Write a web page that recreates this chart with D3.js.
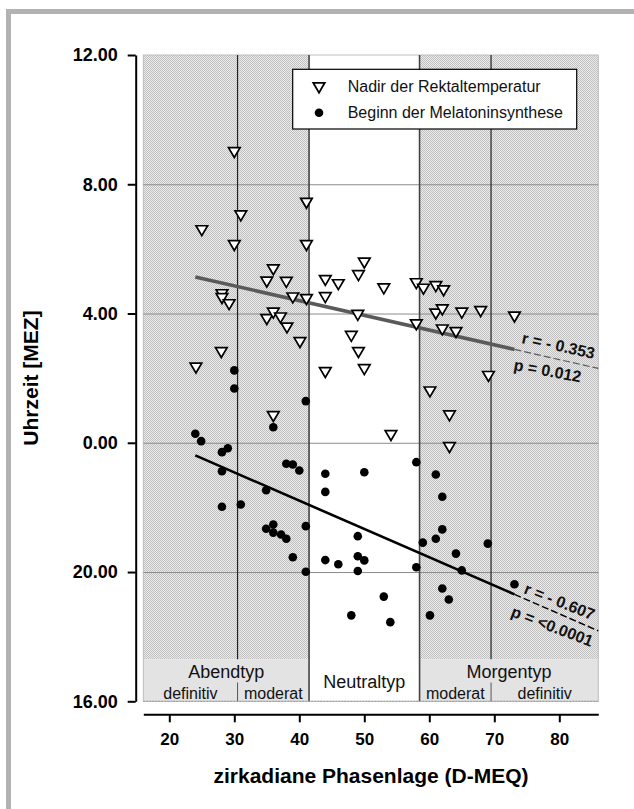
<!DOCTYPE html>
<html><head><meta charset="utf-8">
<script src="https://cdn.jsdelivr.net/npm/d3@7"></script>
<style>
html,body{margin:0;padding:0;background:#fff;}
svg{display:block;font-family:"Liberation Sans",Arial,sans-serif;}
</style></head>
<body>
<svg id="chart" width="634" height="809"></svg>
<script>
// ---- data ----
const xTicks = [20, 30, 40, 50, 60, 70, 80];
const yTickValues = [12, 8, 4, 0, -4, -8];
const yTickLabels = ["12.00", "8.00", "4.00", "0.00", "20.00", "16.00"];
const gridValues = [8, 4, 0, -4];

// Nadir der Rektaltemperatur (triangles)
const tempX = [24.1, 25.0, 28.0, 28.1, 28.1, 29.2, 30.0, 30.0, 31.0, 35.0, 35.0, 36.0, 36.0, 36.0, 37.1, 38.0, 38.1, 39.0, 40.1, 41.1, 41.1, 41.1, 44.0, 44.0, 44.0, 46.0, 48.0, 49.1, 49.0, 49.1, 50.0, 50.0, 53.0, 54.1, 58.0, 58.0, 59.1, 60.1, 61.0, 61.0, 62.2, 62.0, 62.0, 63.1, 63.1, 64.1, 65.0, 67.9, 69.1, 73.1];
const tempY = [2.32, 6.57, 2.80, 4.59, 4.47, 4.28, 8.99, 6.11, 7.03, 4.98, 3.82, 5.36, 4.02, 0.82, 3.87, 4.97, 3.56, 4.49, 3.11, 7.42, 6.11, 4.44, 5.03, 4.50, 2.18, 4.90, 3.30, 5.18, 3.95, 2.80, 5.57, 2.27, 4.77, 0.23, 4.93, 3.66, 4.76, 1.58, 4.84, 3.99, 4.71, 4.12, 3.50, 0.84, -0.14, 3.42, 4.02, 4.07, 2.06, 3.90];

// Beginn der Melatoninsynthese (dots)
const melX = [24.0, 24.9, 28.1, 29.0, 28.1, 28.1, 30.0, 30.0, 31.0, 34.9, 34.9, 36.0, 36.0, 36.0, 37.2, 38.0, 38.0, 39.0, 39.0, 40.0, 41.0, 41.0, 41.0, 44.0, 44.0, 44.0, 46.0, 48.0, 49.0, 49.0, 49.0, 50.0, 50.0, 53.0, 54.0, 58.0, 58.0, 59.0, 60.1, 61.0, 61.0, 62.0, 62.0, 62.0, 63.0, 64.1, 65.0, 69.0, 73.1];
const melY = [0.28, 0.05, -0.29, -0.17, -0.88, -1.98, 2.24, 1.68, -1.91, -1.47, -2.66, 0.48, -2.53, -2.78, -2.84, -2.97, -0.65, -0.67, -3.54, -0.86, 1.29, -2.58, -3.99, -0.96, -1.52, -3.63, -3.76, -5.34, -2.89, -3.51, -3.97, -0.91, -3.64, -4.76, -5.55, -0.60, -3.85, -3.09, -5.34, -0.98, -2.97, -1.67, -2.68, -4.51, -4.85, -3.43, -3.95, -3.12, -4.38];

// regression lines: solid part then dashed extension
const trendTempX = [24, 73.1, 86];
const trendTempY = [5.13, 2.89, 2.30];
const trendMelX = [24, 73.1, 86];
const trendMelY = [-0.39, -4.69, -5.82];

const typeBounds = [30.5, 41.5, 58.5, 69.5];
const groupLabels = ["Abendtyp", "Neutraltyp", "Morgentyp"];
const subLabels = ["definitiv", "moderat", "moderat", "definitiv"];
const legendLabels = ["Nadir der Rektaltemperatur", "Beginn der Melatoninsynthese"];

// ---- drawing ----
const svg = d3.select("#chart");
const x = d3.scaleLinear().domain([16, 86]).range([143.3, 598.3]);
const y = d3.scaleLinear().domain([-8, 12]).range([701.3, 55]);
const bandTop = 659.3;

const defs = svg.append("defs");
const pat = defs.append("pattern").attr("id", "hatch").attr("patternUnits", "userSpaceOnUse")
  .attr("width", 2).attr("height", 2);
pat.append("rect").attr("width", 2).attr("height", 2).attr("fill", "#ebebeb");
pat.append("rect").attr("x", 0).attr("y", 0).attr("width", 1).attr("height", 1).attr("fill", "#c0c0c0");
pat.append("rect").attr("x", 1).attr("y", 1).attr("width", 1).attr("height", 1).attr("fill", "#c0c0c0");

// outer frame (top and left visible)
svg.append("rect").attr("x", 8.5).attr("y", 11.5).attr("width", 700).attr("height", 900)
  .attr("fill", "none").attr("stroke", "#b2b2b2").attr("stroke-width", 5);

const x0 = x.range()[0], x1 = x.range()[1];
const yTop = y(12), yBot = y(-8);

// hatched regions
svg.append("rect").attr("x", x0).attr("y", yTop).attr("width", x(typeBounds[1]) - x0)
  .attr("height", bandTop - yTop).attr("fill", "url(#hatch)");
svg.append("rect").attr("x", x(typeBounds[2])).attr("y", yTop).attr("width", x1 - x(typeBounds[2]))
  .attr("height", bandTop - yTop).attr("fill", "url(#hatch)");
// neutral region white
svg.append("rect").attr("x", x(typeBounds[1])).attr("y", yTop).attr("width", x(typeBounds[2]) - x(typeBounds[1]))
  .attr("height", yBot - yTop).attr("fill", "#fff");
// label band
svg.append("rect").attr("x", x0).attr("y", bandTop).attr("width", x(typeBounds[1]) - x0)
  .attr("height", yBot - bandTop).attr("fill", "#e3e3e3");
svg.append("rect").attr("x", x(typeBounds[2])).attr("y", bandTop).attr("width", x1 - x(typeBounds[2]))
  .attr("height", yBot - bandTop).attr("fill", "#e3e3e3");

// plot border
svg.append("rect").attr("x", x0).attr("y", yTop).attr("width", x1 - x0).attr("height", yBot - yTop)
  .attr("fill", "none").attr("stroke", "#bdbdbd").attr("stroke-width", 1);

// horizontal grid
svg.append("g").selectAll("line").data(gridValues).join("line")
  .attr("x1", x0).attr("x2", x1).attr("y1", d => y(d) + 0.5).attr("y2", d => y(d) + 0.5)
  .attr("stroke", "#8c8c8c").attr("stroke-width", 1);

// vertical boundaries
[typeBounds[0], typeBounds[3]].forEach(b => {
  svg.append("line").attr("x1", x(b)).attr("x2", x(b)).attr("y1", yTop).attr("y2", bandTop)
    .attr("stroke", "#222").attr("stroke-width", 1.2);
  svg.append("line").attr("x1", x(b)).attr("x2", x(b)).attr("y1", 682.5).attr("y2", yBot)
    .attr("stroke", "#555").attr("stroke-width", 1);
});
[typeBounds[1], typeBounds[2]].forEach(b => {
  svg.append("line").attr("x1", x(b)).attr("x2", x(b)).attr("y1", yTop).attr("y2", yBot)
    .attr("stroke", "#444").attr("stroke-width", 1.6);
});
// band bottom dashed line
svg.append("line").attr("x1", x0).attr("x2", x1).attr("y1", yBot).attr("y2", yBot)
  .attr("stroke", "#999").attr("stroke-width", 1).attr("stroke-dasharray", "2,1");

// band labels
const groupCenters = [(x0 + x(typeBounds[1])) / 2, (x(typeBounds[1]) + x(typeBounds[2])) / 2, (x(typeBounds[2]) + x1) / 2];
const groupBaselines = [677.5, 688, 677.5];
svg.append("g").selectAll("text").data(groupLabels).join("text")
  .attr("x", (d, i) => groupCenters[i]).attr("y", (d, i) => groupBaselines[i])
  .attr("text-anchor", "middle").attr("font-size", 18).attr("fill", "#111").text(d => d);
const subEdges = [x0, x(typeBounds[0]), x(typeBounds[1]), x(typeBounds[2]), x(typeBounds[3]), x1];
const subCenters = [(subEdges[0] + subEdges[1]) / 2, (subEdges[1] + subEdges[2]) / 2, (subEdges[3] + subEdges[4]) / 2, (subEdges[4] + subEdges[5]) / 2];
svg.append("g").selectAll("text").data(subLabels).join("text")
  .attr("x", (d, i) => subCenters[i]).attr("y", 698.5)
  .attr("text-anchor", "middle").attr("font-size", 16).attr("fill", "#111").text(d => d);

// trend lines
function trend(xs, ys, color, w, dw, dash) {
  svg.append("line").attr("x1", x(xs[0])).attr("y1", y(ys[0])).attr("x2", x(xs[1])).attr("y2", y(ys[1]))
    .attr("stroke", color).attr("stroke-width", w).attr("stroke-linecap", "butt");
  svg.append("line").attr("x1", x(xs[1])).attr("y1", y(ys[1])).attr("x2", x(xs[2])).attr("y2", y(ys[2]))
    .attr("stroke", color).attr("stroke-width", dw).attr("stroke-dasharray", dash);
}
trend(trendTempX, trendTempY, "#5a5a5a", 3.6, 1.2, "7,3");
trend(trendMelX, trendMelY, "#000", 2.6, 1.5, "7,3");

// markers
const triPath = "M-5.8,-4.7 L5.8,-4.7 L0,5.2 Z";
svg.append("g").selectAll("path").data(tempX).join("path")
  .attr("d", triPath).attr("transform", (d, i) => `translate(${x(d)},${y(tempY[i])})`)
  .attr("fill", "#fff").attr("stroke", "#000").attr("stroke-width", 1.7).attr("stroke-linejoin", "miter");
svg.append("g").selectAll("circle").data(melX).join("circle")
  .attr("cx", d => x(d)).attr("cy", (d, i) => y(melY[i])).attr("r", 4.3).attr("fill", "#000");

// annotations
function rotText(tx, ty, ang, txt) {
  svg.append("text").attr("transform", `translate(${tx},${ty}) rotate(${ang})`)
    .attr("font-size", 16).attr("font-weight", "bold").attr("fill", "#111").text(txt);
}
rotText(521, 343, 12.4, "r = - 0.353");
rotText(513, 370, 10.5, "p = 0.012");
rotText(523, 593, 21.5, "r = - 0.607");
rotText(510, 616, 21, "p = <0.0001");

// legend
const lg = svg.append("g");
lg.append("rect").attr("x", 292.7).attr("y", 69.3).attr("width", 284).attr("height", 59.7)
  .attr("fill", "#fff").attr("stroke", "#000").attr("stroke-width", 1.2);
lg.append("path").attr("d", triPath).attr("transform", "translate(319,87.5)")
  .attr("fill", "#fff").attr("stroke", "#000").attr("stroke-width", 1.7);
lg.append("circle").attr("cx", 319).attr("cy", 112.7).attr("r", 4.3).attr("fill", "#000");
lg.selectAll("text").data(legendLabels).join("text")
  .attr("x", 347.7).attr("y", (d, i) => i === 0 ? 92 : 118)
  .attr("font-size", 16).attr("fill", "#111").text(d => d);

// axes
const xAxis = d3.axisBottom(x).tickValues(xTicks).tickSize(8).tickSizeOuter(0).tickPadding(11);
const gx = svg.append("g").attr("transform", "translate(0,714.3)").call(xAxis);
gx.select(".domain").attr("stroke-width", 2);
gx.selectAll(".tick line").attr("stroke-width", 2);
gx.selectAll(".tick text").attr("font-size", 17).attr("font-weight", "bold").attr("font-family", "Liberation Sans, Arial, sans-serif").attr("fill", "#000");

const yAxis = d3.axisLeft(y).tickValues(yTickValues).tickFormat((d, i) => yTickLabels[i]).tickSize(8).tickSizeOuter(0).tickPadding(10);
const gy = svg.append("g").attr("transform", "translate(135.7,0)").call(yAxis);
gy.select(".domain").attr("stroke-width", 2);
gy.selectAll(".tick line").attr("stroke-width", 2);
gy.selectAll(".tick text").attr("font-size", 18).attr("font-weight", "bold").attr("font-family", "Liberation Sans, Arial, sans-serif").attr("fill", "#000");

// titles
svg.append("text").attr("x", 371).attr("y", 783).attr("text-anchor", "middle")
  .attr("font-size", 21).attr("font-weight", "bold").attr("fill", "#000")
  .text("zirkadiane Phasenlage (D-MEQ)");
svg.append("text").attr("transform", "translate(38,378) rotate(-90)").attr("text-anchor", "middle")
  .attr("font-size", 21).attr("font-weight", "bold").attr("fill", "#000")
  .text("Uhrzeit [MEZ]");
</script>
</body></html>
